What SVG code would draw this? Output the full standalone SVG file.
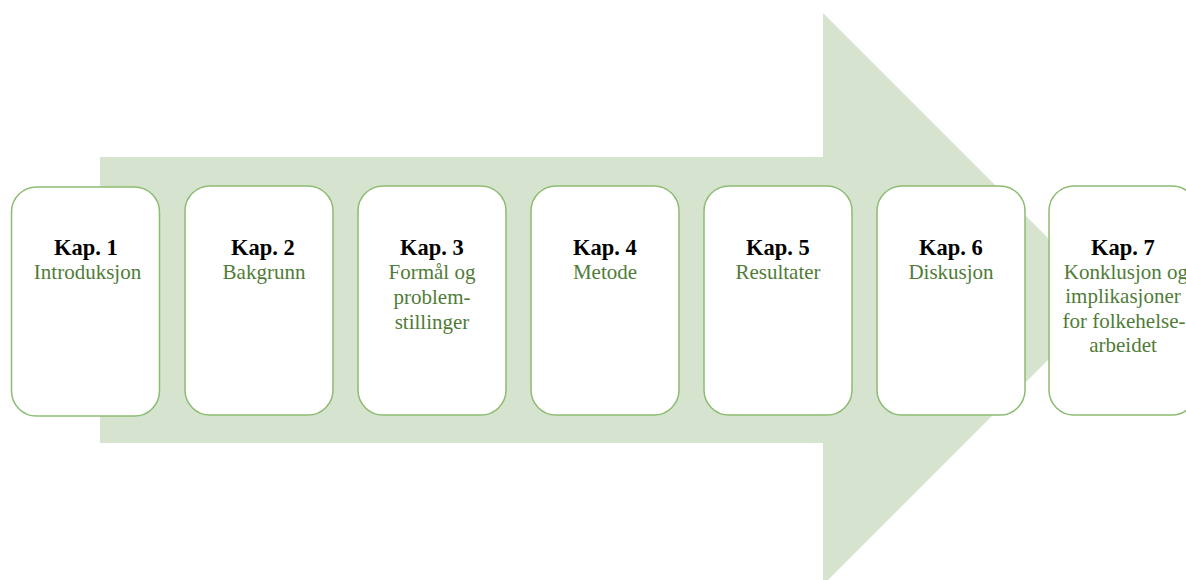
<svg xmlns="http://www.w3.org/2000/svg" width="1186" height="580" viewBox="0 0 1186 580">
<style>
.box{fill:#ffffff;stroke:#8cbc72;stroke-width:1.5}
.t{font-family:"Liberation Serif","Times New Roman",serif;font-size:22.5px;font-weight:bold;fill:#000;text-anchor:middle}
.s{font-family:"Liberation Serif","Times New Roman",serif;font-size:21px;fill:#4f7c37;text-anchor:middle}
</style>
<rect width="1186" height="580" fill="#ffffff"/>
<g id="arrow">
<polygon points="100,157 823,157 823,13 1109,299 823,585 823,443 100,443" fill="#d6e4cf"/>
</g>
<g id="connectors"></g>
<g id="kap1">
<rect class="box" x="11.5" y="187" width="148" height="229" rx="25"/>
<text class="t" x="86" y="255">Kap. 1</text>
<text class="s" x="87.5" y="279">Introduksjon</text>
</g>
<g id="kap2">
<rect class="box" x="185" y="186" width="148" height="229" rx="25"/>
<text class="t" x="263" y="255">Kap. 2</text>
<text class="s" x="264" y="279">Bakgrunn</text>
</g>
<g id="kap3">
<rect class="box" x="358" y="186" width="148" height="229" rx="25"/>
<text class="t" x="432" y="255">Kap. 3</text>
<text class="s" x="432" y="279">Formål og</text>
<text class="s" x="432" y="304">problem-</text>
<text class="s" x="432" y="329">stillinger</text>
</g>
<g id="kap4">
<rect class="box" x="531" y="186" width="148" height="229" rx="25"/>
<text class="t" x="605" y="255">Kap. 4</text>
<text class="s" x="605" y="279">Metode</text>
</g>
<g id="kap5">
<rect class="box" x="704" y="186" width="148" height="229" rx="25"/>
<text class="t" x="778" y="255">Kap. 5</text>
<text class="s" x="778" y="279">Resultater</text>
</g>
<g id="kap6">
<rect class="box" x="877" y="186" width="148" height="229" rx="25"/>
<text class="t" x="951" y="255">Kap. 6</text>
<text class="s" x="951" y="279">Diskusjon</text>
</g>
<g id="kap7">
<rect class="box" x="1049" y="186" width="148" height="229" rx="25"/>
<text class="t" x="1123" y="255">Kap. 7</text>
<text class="s" x="1126" y="279">Konklusjon og</text>
<text class="s" x="1123" y="303">implikasjoner</text>
<text class="s" x="1124" y="328">for folkehelse-</text>
<text class="s" x="1123" y="352">arbeidet</text>
</g>
</svg>
